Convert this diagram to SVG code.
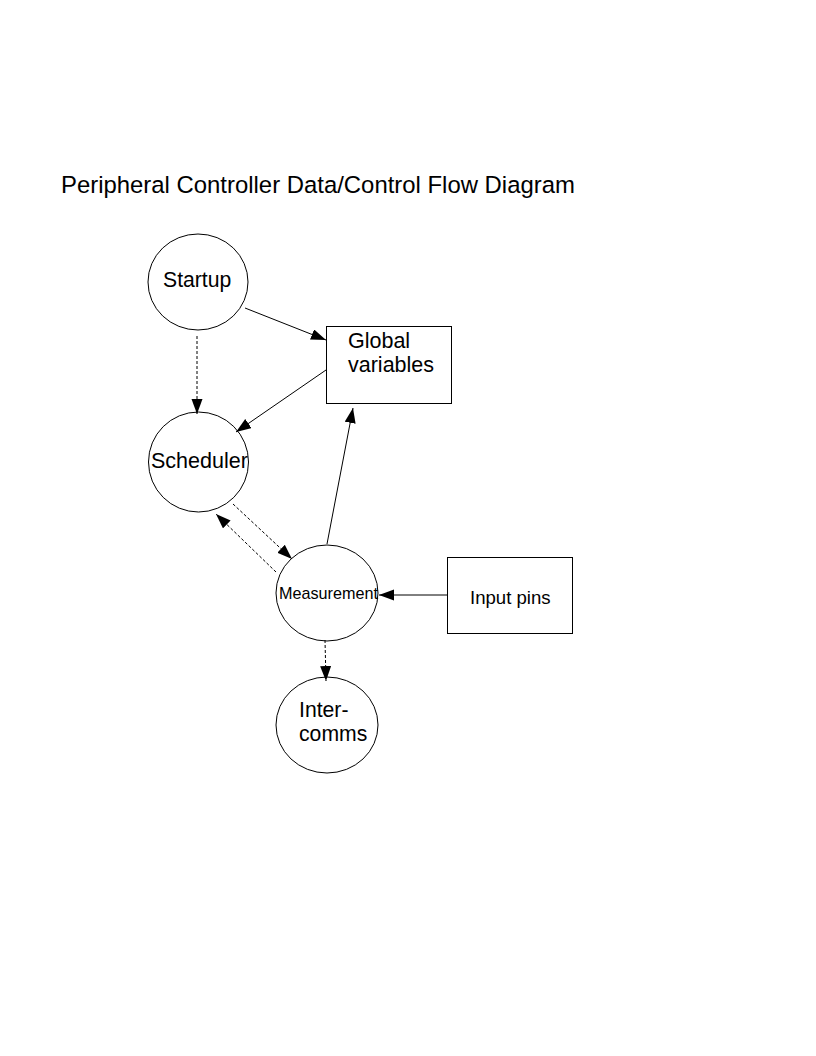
<svg xmlns="http://www.w3.org/2000/svg" width="816" height="1056" viewBox="0 0 816 1056">
<style>
.shape{fill:#fff;stroke:#000;stroke-width:1}
.lbl{font-family:"Liberation Sans",Arial,sans-serif;fill:#000}
.c{stroke:#000;stroke-width:1;fill:none}
.d{stroke-dasharray:3,2}
</style>
<defs>
<marker id="ah" markerWidth="16" markerHeight="12" refX="15" refY="5.5" orient="auto" markerUnits="userSpaceOnUse">
<path d="M0,0 L15,5.5 L0,11 Z" fill="#000"/>
</marker>
</defs>
<rect width="816" height="1056" fill="#fff"/>
<text class="lbl" x="61" y="193" font-size="23.9">Peripheral Controller Data/Control Flow Diagram</text>
<g id="startup"><ellipse class="shape" cx="198" cy="282" rx="50" ry="48"/><text class="lbl" x="163" y="287" font-size="21.2">Startup</text></g>
<g id="global"><rect class="shape" x="326.5" y="326.5" width="125" height="77"/><text class="lbl" font-size="21.5"><tspan x="348" y="348">Global</tspan><tspan x="348" y="372">variables</tspan></text></g>
<g id="scheduler"><ellipse class="shape" cx="198.5" cy="462" rx="50" ry="50"/><text class="lbl" x="151" y="468" font-size="21.5">Scheduler</text></g>
<g id="measurement"><ellipse class="shape" cx="327" cy="593" rx="51" ry="48"/><text class="lbl" x="279" y="599" font-size="16.2">Measurement</text></g>
<g id="inputpins"><rect class="shape" x="447.5" y="557.5" width="125" height="76"/><text class="lbl" x="470" y="604" font-size="18.6">Input pins</text></g>
<g id="intercomms"><ellipse class="shape" cx="327" cy="725" rx="51" ry="48"/><text class="lbl" font-size="21.2"><tspan x="299" y="717">Inter-</tspan><tspan x="299" y="741">comms</tspan></text></g>
<g id="connectors">
<line class="c" x1="245" y1="308" x2="326" y2="340" marker-end="url(#ah)"/>
<line class="c d" x1="197" y1="336" x2="197" y2="414" marker-end="url(#ah)"/>
<line class="c" x1="326" y1="370" x2="236" y2="432" marker-end="url(#ah)"/>
<line class="c" x1="327" y1="544" x2="353" y2="408" marker-end="url(#ah)"/>
<line class="c d" x1="233" y1="504" x2="292" y2="559" marker-end="url(#ah)"/>
<line class="c d" x1="276" y1="572" x2="216" y2="514" marker-end="url(#ah)"/>
<line class="c" x1="447" y1="595" x2="379" y2="595" marker-end="url(#ah)"/>
<line class="c d" x1="325" y1="640" x2="326" y2="681" marker-end="url(#ah)"/>
</g>
</svg>
